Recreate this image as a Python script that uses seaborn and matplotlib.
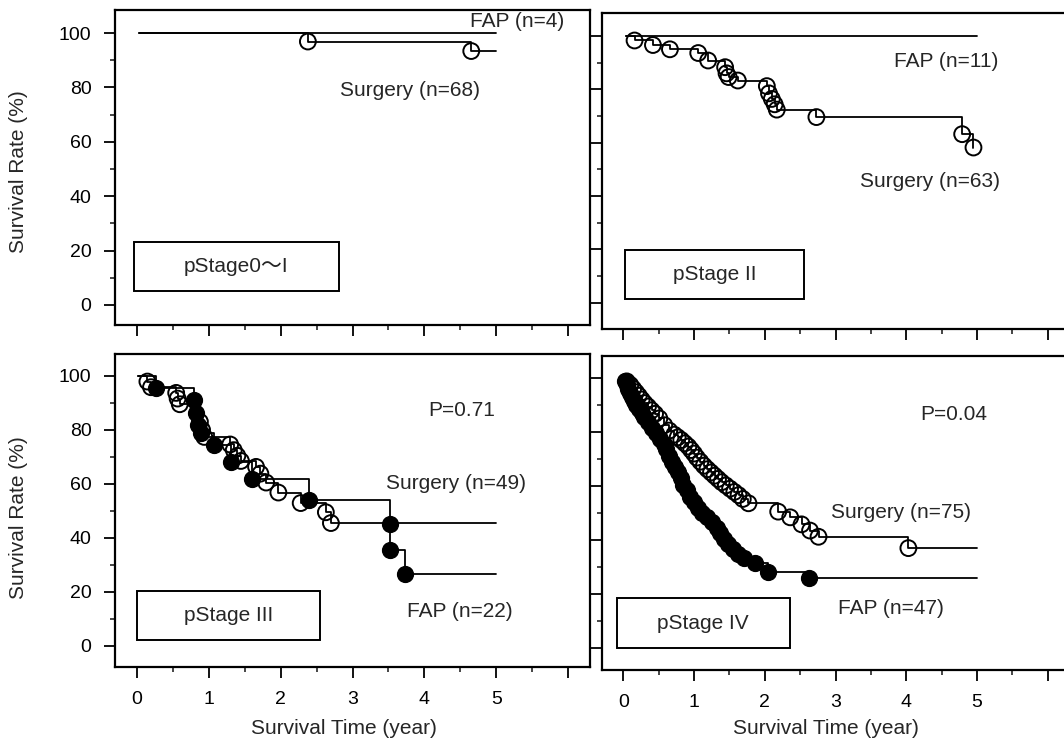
import numpy as np
import matplotlib
matplotlib.use("Agg")
import matplotlib.pyplot as plt
from matplotlib.patches import Rectangle
from matplotlib.ticker import FixedLocator, FixedFormatter
import seaborn as sns

sns.set_style("ticks")
plt.rcParams['font.family'] = ['Liberation Sans', 'Noto Sans CJK JP', 'DejaVu Sans']

# ---------------- data (event times in years, survival % after event) -------------
# pStage 0~I
tl_fap_t = []
tl_fap_s = []
tl_fap_start, tl_fap_end = 0.03, 5.0
tl_sur_t = [2.38, 4.65]
tl_sur_s = [96.9, 93.4]
tl_sur_start, tl_sur_end = 0.03, 5.0

# pStage II
tr_fap_t = []
tr_fap_s = []
tr_fap_start, tr_fap_end = 0.04, 5.0
tr_sur_t = [0.16, 0.42, 0.66, 1.06, 1.20, 1.44, 1.46, 1.49, 1.62, 2.03, 2.06, 2.10, 2.14, 2.17, 2.73, 4.79, 4.95]
tr_sur_s = [98.3, 96.6, 95.0, 93.6, 90.8, 88.3, 86.0, 84.6, 83.3, 81.2, 78.5, 76.4, 74.4, 72.4, 69.6, 63.2, 58.2]
tr_sur_start, tr_sur_end = 0.04, 4.95

# pStage III
bl_sur_t = [0.15, 0.20, 0.55, 0.57, 0.60, 0.88, 0.91, 0.94, 1.30, 1.35, 1.40, 1.45, 1.66, 1.72, 1.80, 1.97, 2.28, 2.63, 2.70]
bl_sur_s = [97.9, 95.8, 93.7, 91.6, 89.5, 83.0, 80.0, 77.4, 74.6, 72.5, 70.4, 68.5, 66.3, 63.8, 60.5, 56.8, 52.9, 49.5, 45.5]
bl_sur_start, bl_sur_end = 0.02, 5.0
bl_fap_t = [0.27, 0.80, 0.83, 0.86, 0.90, 1.07, 1.31, 1.61, 2.40, 3.52, 3.52, 3.73]
bl_fap_s = [95.5, 90.9, 86.4, 81.8, 79.0, 74.5, 68.2, 61.8, 54.1, 45.0, 35.5, 26.5]
bl_fap_start, bl_fap_end = 0.02, 5.0

# pStage IV
br_sur_t = [0.05, 0.10, 0.14, 0.18, 0.22, 0.26, 0.30, 0.35, 0.40, 0.45, 0.51, 0.58, 0.65, 0.72, 0.77,
            0.82, 0.87, 0.92, 0.96, 1.00, 1.04, 1.09, 1.14, 1.19, 1.24, 1.29, 1.34, 1.39, 1.45, 1.51,
            1.57, 1.63, 1.69, 1.77, 2.19, 2.36, 2.52, 2.64, 2.76, 4.03]
br_sur_s = [98.7, 97.4, 96.0, 94.7, 93.4, 92.0, 90.7, 89.4, 88.0, 86.7, 85.0, 82.5, 80.5, 79.0, 78.0,
            77.0, 75.8, 74.6, 73.3, 72.0, 70.5, 69.0, 67.5, 66.2, 65.0, 63.8, 62.6, 61.4, 60.2, 59.0,
            57.8, 56.6, 55.2, 53.6, 50.5, 48.4, 45.8, 43.5, 41.2, 37.0]
br_sur_start, br_sur_end = 0.03, 5.0
br_fap_t = [0.03, 0.05, 0.07, 0.09, 0.12, 0.15, 0.18, 0.22, 0.26, 0.30, 0.35, 0.40, 0.46, 0.52, 0.57,
            0.61, 0.65, 0.69, 0.73, 0.77, 0.81, 0.85, 0.90, 0.95, 1.00, 1.05, 1.12, 1.19, 1.26, 1.32,
            1.37, 1.42, 1.48, 1.55, 1.62, 1.70, 1.86, 2.05, 2.62]
br_fap_s = [99.0, 97.5, 96.0, 94.5, 93.0, 91.5, 90.0, 88.5, 87.0, 85.5, 83.5, 81.5, 79.5, 77.5, 75.5,
            73.5, 71.0, 69.0, 67.0, 65.0, 63.0, 60.5, 58.5, 56.0, 54.0, 52.0, 50.0, 48.5, 46.5, 44.5,
            42.5, 40.5, 38.5, 36.5, 35.0, 33.5, 31.5, 28.3, 25.8]
br_fap_start, br_fap_end = 0.02, 5.0

x_ticks = [0, 1, 2, 3, 4, 5, 6]
x_ticklabels = ['0', '1', '2', '3', '4', '5', '']
y_ticks = [0, 20, 40, 60, 80, 100]
y_ticklabels = ['0', '20', '40', '60', '80', '100']

# ---------------- figure ----------------
W, H = 1064, 743
fig = plt.figure(figsize=(W / 100, H / 100), dpi=100)


def add_ax(x0, y0, x1, y1):
    return fig.add_axes([x0 / W, 1 - y1 / H, (x1 - x0) / W, (y1 - y0) / H])


def curve(ax, t, s, start, end, filled):
    xs = [start] + list(t) + [end]
    ys = [100.0] + list(s) + [s[-1] if len(s) else 100.0]
    sns.lineplot(x=xs, y=ys, drawstyle='steps-post', color='black', lw=1.3,
                 sort=False, estimator=None, ax=ax)
    if len(t):
        if filled:
            sns.scatterplot(x=t, y=s, s=130, color='black', edgecolor='black',
                            linewidth=1.0, ax=ax, zorder=3)
        else:
            sns.scatterplot(x=t, y=s, s=130, facecolor='none', edgecolor='black',
                            linewidth=1.4, ax=ax, zorder=3)


def style(ax, ylim, xlab, ylab):
    ax.set_xlim(-0.3, 6.3)
    ax.set_ylim(*ylim)
    ax.xaxis.set_major_locator(FixedLocator(x_ticks))
    ax.xaxis.set_minor_locator(FixedLocator(np.arange(0.5, 6.0, 1.0)))
    ax.yaxis.set_major_locator(FixedLocator(y_ticks))
    ax.yaxis.set_minor_locator(FixedLocator([10, 30, 50, 70, 90]))
    if xlab:
        ax.xaxis.set_major_formatter(FixedFormatter(x_ticklabels))
    else:
        ax.set_xticklabels([])
    if ylab:
        ax.yaxis.set_major_formatter(FixedFormatter(y_ticklabels))
    else:
        ax.set_yticklabels([])
    ax.tick_params(which='major', direction='out', length=8, width=1.3,
                   labelsize=14, colors='black', pad=9)
    ax.tick_params(which='minor', direction='out', length=3.5, width=1.2)
    for sp in ax.spines.values():
        sp.set_visible(True)
        sp.set_linewidth(1.6)
        sp.set_color('black')
    ax.set_xlabel('')
    ax.set_ylabel('')


def stage_box(ax, x0, x1, y0, y1, label):
    ax.add_patch(Rectangle((x0, y0), x1 - x0, y1 - y0, fill=False, lw=1.4,
                           edgecolor='black', zorder=4))
    ax.text((x0 + x1) / 2, (y0 + y1) / 2, label, ha='center', va='center', fontsize=15)


fs = 15

# Top-left
ax = add_ax(115, 10, 590, 325)
curve(ax, tl_fap_t, tl_fap_s, tl_fap_start, tl_fap_end, True)
curve(ax, tl_sur_t, tl_sur_s, tl_sur_start, tl_sur_end, False)
style(ax, (-7.4, 108.5), False, True)
ax.text(4.63, 104.3, 'FAP (n=4)', fontsize=fs, va='center')
ax.text(2.82, 78.9, 'Surgery (n=68)', fontsize=fs, va='center')
stage_box(ax, -0.04, 2.81, 5.1, 23.3, 'pStage0～I')

# Top-right
ax = add_ax(602, 13, 1069, 329)
curve(ax, tr_fap_t, tr_fap_s, tr_fap_start, tr_fap_end, True)
curve(ax, tr_sur_t, tr_sur_s, tr_sur_start, tr_sur_end, False)
style(ax, (-9.8, 108.6), False, False)
ax.text(3.83, 90.5, 'FAP (n=11)', fontsize=fs, va='center')
ax.text(3.34, 45.5, 'Surgery (n=63)', fontsize=fs, va='center')
stage_box(ax, 0.03, 2.55, 1.5, 19.9, 'pStage II')

# Bottom-left
ax = add_ax(115, 354, 590, 667)
curve(ax, bl_sur_t, bl_sur_s, bl_sur_start, bl_sur_end, False)
curve(ax, bl_fap_t, bl_fap_s, bl_fap_start, bl_fap_end, True)
style(ax, (-7.8, 108.1), True, True)
ax.text(4.05, 87.3, 'P=0.71', fontsize=fs, va='center')
ax.text(3.46, 60.1, 'Surgery (n=49)', fontsize=fs, va='center')
ax.text(3.76, 12.6, 'FAP (n=22)', fontsize=fs, va='center')
stage_box(ax, 0.0, 2.55, 2.3, 20.4, 'pStage III')

# Bottom-right
ax = add_ax(602, 356, 1069, 670)
curve(ax, br_sur_t, br_sur_s, br_sur_start, br_sur_end, False)
curve(ax, br_fap_t, br_fap_s, br_fap_start, br_fap_end, True)
style(ax, (-8.1, 108.1), True, False)
ax.text(4.2, 86.4, 'P=0.04', fontsize=fs, va='center')
ax.text(2.94, 50.0, 'Surgery (n=75)', fontsize=fs, va='center')
ax.text(3.03, 14.8, 'FAP (n=47)', fontsize=fs, va='center')
stage_box(ax, -0.09, 2.35, 0.0, 18.5, 'pStage IV')

# axis titles
fig.text(19 / W, 1 - 172 / H, 'Survival Rate (%)', rotation=90, ha='center', va='center', fontsize=15)
fig.text(19 / W, 1 - 518 / H, 'Survival Rate (%)', rotation=90, ha='center', va='center', fontsize=15)
fig.text(344 / W, 1 - 728 / H, 'Survival Time (year)', ha='center', va='center', fontsize=15)
fig.text(826 / W, 1 - 728 / H, 'Survival Time (year)', ha='center', va='center', fontsize=15)

fig.savefig('out.png', dpi=100)
